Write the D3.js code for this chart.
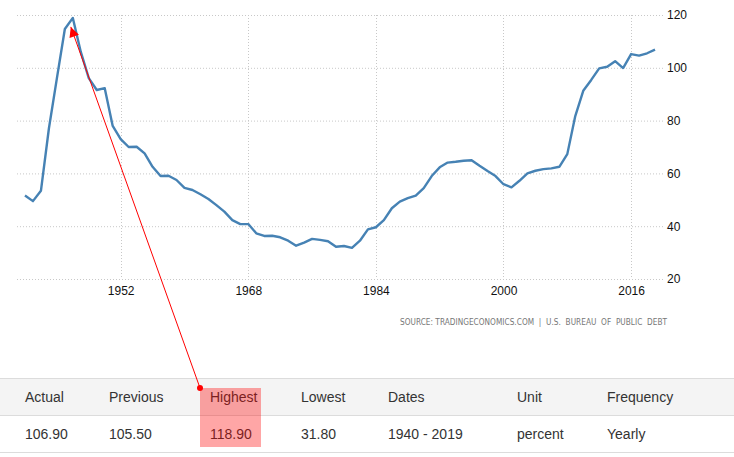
<!DOCTYPE html>
<html>
<head>
<meta charset="utf-8">
<script src="https://cdn.jsdelivr.net/npm/d3@7"></script>
<style>
  body{margin:0;background:#fff;}
  svg{display:block;font-family:"Liberation Sans",Arial,sans-serif;}
</style>
</head>
<body>
<div id="chart"></div>
<script>
// debt to GDP, 1940 - 2019
var years = d3.range(1940, 2020);
var values = [
    51.6, 49.5, 53.4, 77.0, 96.0, 114.7, 118.9, 106.0, 96.1, 91.6,
    92.3, 78.0, 73.0, 70.0, 70.1, 67.6, 62.5, 59.0, 59.1, 57.5,
    54.5, 53.7, 52.1, 50.3, 48.0, 45.5, 42.3, 40.8, 40.8, 37.3,
    36.3, 36.4, 35.8, 34.5, 32.6, 33.8, 35.2, 34.8, 34.3, 32.2,
    32.5, 31.8, 34.5, 38.8, 39.6, 42.3, 46.8, 49.3, 50.6, 51.6,
    54.4, 59.0, 62.3, 64.1, 64.4, 64.8, 65.0, 62.9, 60.9, 59.0,
    55.9, 54.7, 57.2, 60.0, 61.0, 61.6, 61.9, 62.5, 67.3, 81.7,
    91.3, 95.4, 99.8, 100.4, 102.5, 99.9, 105.2, 104.6, 105.5, 106.9
];
var x_ticks = [1952, 1968, 1984, 2000, 2016];
var y_ticks = [20, 40, 60, 80, 100, 120];

var table_headers = ["Actual", "Previous", "Highest", "Lowest", "Dates", "Unit", "Frequency"];
var table_values = ["106.90", "105.50", "118.90", "31.80", "1940 - 2019", "percent", "Yearly"];
var table_col_x = [25, 109, 210, 301, 388, 517, 607];
var highlight_col = 2;

var width = 734, height = 457;
var grid_color = "#c8c8c8";

var svg = d3.select("#chart").append("svg")
    .attr("width", width)
    .attr("height", height);

var x = d3.scaleLinear().domain([1939, 2020]).range([17, 663]);
var y = d3.scaleLinear().domain([20, 120]).range([279, 15]);

// horizontal grid + right labels
var yAxis = svg.append("g")
    .attr("transform", "translate(663,0)")
    .call(d3.axisRight(y).tickValues(y_ticks).tickSize(0).tickPadding(4));
yAxis.select(".domain").remove();
yAxis.selectAll("text")
    .attr("font-family", "Liberation Sans, Arial, sans-serif")
    .attr("font-size", "12px")
    .attr("fill", "#111");

svg.append("g").selectAll("line")
    .data(y_ticks)
    .enter().append("line")
    .attr("x1", x.range()[0]).attr("x2", x.range()[1])
    .attr("y1", function(d){return y(d) + 0.5;})
    .attr("y2", function(d){return y(d) + 0.5;})
    .attr("stroke", grid_color)
    .attr("stroke-dasharray", "1,2");

// vertical grid + bottom labels
var xAxis = svg.append("g")
    .attr("transform", "translate(0,279)")
    .call(d3.axisBottom(x).tickValues(x_ticks).tickFormat(d3.format("d")).tickSize(0).tickPadding(7));
xAxis.select(".domain").remove();
xAxis.selectAll("text")
    .attr("font-family", "Liberation Sans, Arial, sans-serif")
    .attr("font-size", "12px")
    .attr("fill", "#111");

svg.append("g").selectAll("line")
    .data(x_ticks)
    .enter().append("line")
    .attr("x1", function(d){return Math.round(x(d)) + 0.5;})
    .attr("x2", function(d){return Math.round(x(d)) + 0.5;})
    .attr("y1", y(120)).attr("y2", y(20))
    .attr("stroke", grid_color)
    .attr("stroke-dasharray", "1,2");

// series
var line = d3.line()
    .x(function(d, i){return x(years[i]);})
    .y(function(d){return y(d);});

svg.append("path")
    .datum(values)
    .attr("d", line)
    .attr("fill", "none")
    .attr("stroke", "#4682b4")
    .attr("stroke-width", 2.4)
    .attr("stroke-linejoin", "round");

// source
svg.append("text")
    .text("SOURCE: TRADINGECONOMICS.COM  |  U.S.  BUREAU  OF  PUBLIC  DEBT")
    .attr("x", 400)
    .attr("y", 325)
    .attr("xml:space", "preserve")
    .attr("textLength", 267)
    .attr("lengthAdjust", "spacing")
    .attr("font-family", "Liberation Sans Narrow, DejaVu Sans Condensed, sans-serif")
    .attr("font-size", "8.2px")
    .attr("fill", "#777");

// table
svg.append("rect")
    .attr("x", 0).attr("y", 378)
    .attr("width", width).attr("height", 37)
    .attr("fill", "#f4f4f4");
[378, 415, 452].forEach(function(yy){
    svg.append("line")
        .attr("x1", 0).attr("x2", width)
        .attr("y1", yy + 0.5).attr("y2", yy + 0.5)
        .attr("stroke", "#dcdcdc");
});

svg.append("g").selectAll("text")
    .data(table_headers)
    .enter().append("text")
    .text(function(d){return d;})
    .attr("x", function(d, i){return table_col_x[i];})
    .attr("y", 402)
    .attr("font-size", "14px")
    .attr("fill", "#333");

svg.append("g").selectAll("text")
    .data(table_values)
    .enter().append("text")
    .text(function(d){return d;})
    .attr("x", function(d, i){return table_col_x[i];})
    .attr("y", 439)
    .attr("font-size", "14px")
    .attr("fill", "#333");

var hx = table_col_x[highlight_col];
svg.append("rect")
    .attr("x", hx - 10).attr("y", 388)
    .attr("width", 61).attr("height", 59)
    .attr("fill", "rgba(255,0,0,0.35)");

// arrow from table to the peak
var peak_i = values.indexOf(d3.max(values));
svg.append("defs").append("marker")
    .attr("id", "head")
    .attr("viewBox", "0 0 10 10")
    .attr("refX", 10).attr("refY", 5)
    .attr("markerWidth", 15).attr("markerHeight", 10)
    .attr("markerUnits", "userSpaceOnUse")
    .attr("orient", "auto")
    .append("path")
    .attr("d", "M0,0L10,5L0,10z")
    .attr("fill", "red");

svg.append("line")
    .attr("x1", hx - 10).attr("y1", 388)
    .attr("x2", x(years[peak_i]) - 2).attr("y2", y(values[peak_i]) + 9)
    .attr("stroke", "red")
    .attr("stroke-width", 1)
    .attr("marker-end", "url(#head)");

svg.append("circle")
    .attr("cx", hx - 10).attr("cy", 388)
    .attr("r", 3)
    .attr("fill", "red");
</script>
</body>
</html>
